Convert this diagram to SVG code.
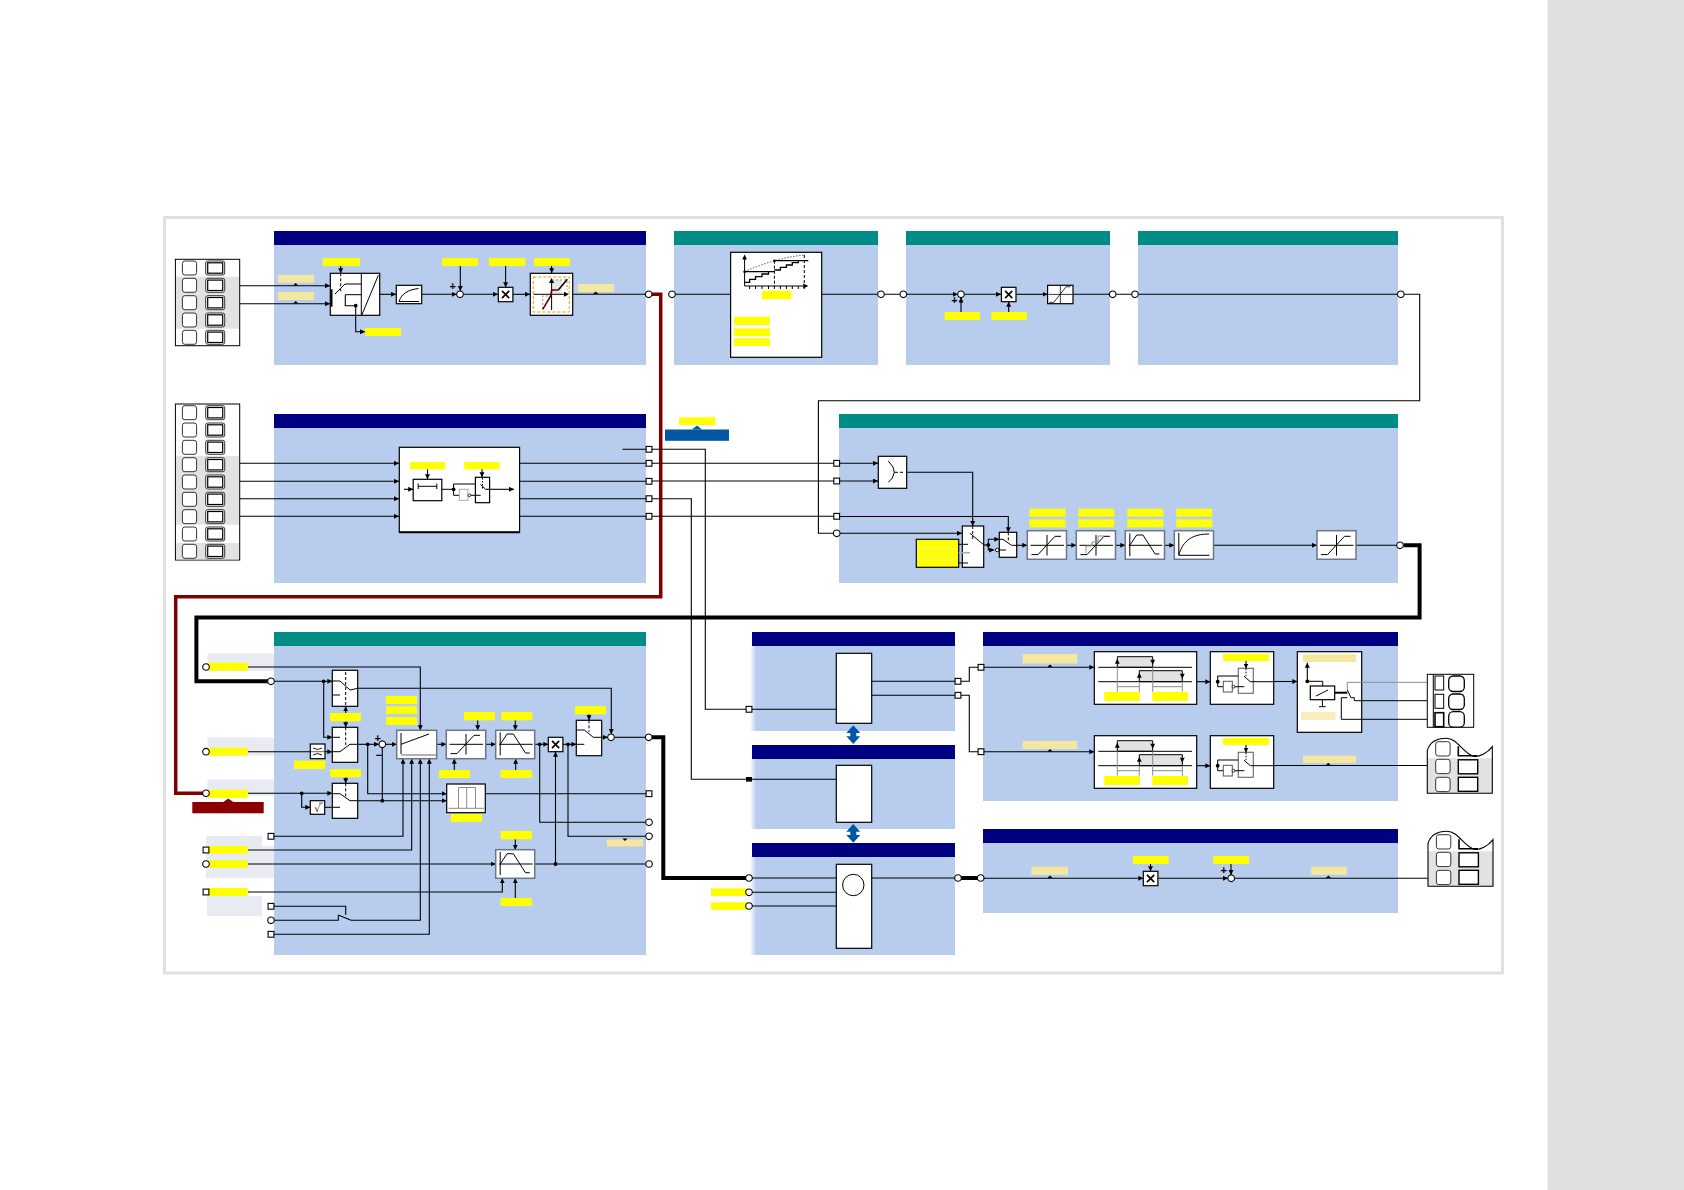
<svg xmlns="http://www.w3.org/2000/svg" xmlns:xlink="http://www.w3.org/1999/xlink" width="1684" height="1190" viewBox="0 0 1684 1190">
<style>
.b{fill:#b8cdee}.hn{fill:#000080}.ht{fill:#008b87}
.y{fill:#ffff00;stroke:none}.p{fill:#f5e6a0;stroke:none}.g{fill:#e9ebf2;stroke:none}
.w{fill:none;stroke:#000;stroke-width:1.1}
.a{marker-end:url(#ah)}
.n{fill:#fff;stroke:#000;stroke-width:1.2}
.bg{fill:#fff;stroke:#6b7787;stroke-width:1.5}
.i{fill:none;stroke:#000;stroke-width:1}
.d{fill:none;stroke:#000;stroke-width:1;stroke-dasharray:3 2}
.gl{fill:none;stroke:#8b8b8b;stroke-width:1}
.dot{fill:#000}
.pt{fill:#fff;stroke:#000;stroke-width:1.1}
.pm{font-family:"Liberation Sans",Arial,sans-serif;font-size:11px;font-weight:bold;fill:#000;text-anchor:middle}
</style>
<defs>
<marker id="ah" markerUnits="userSpaceOnUse" markerWidth="6" markerHeight="6" refX="5" refY="2.5" orient="auto"><path d="M0 0L5 2.5L0 5z"/></marker>
<linearGradient id="fade"><stop offset="0" stop-color="#fff"/><stop offset="1" stop-color="#b8cdee"/></linearGradient>
<circle id="pc" r="3.3" class="pt"/>
<rect id="ps" x="-2.9" y="-2.9" width="5.8" height="5.8" class="pt"/>
<circle id="dt" r="1.9" class="dot"/>
<path id="tri" d="M-2.6 0L0 -2.6L2.6 0z" fill="#000"/>
<g id="t"><rect width="14.2" height="14" rx="2.5" fill="#fff" stroke="#333" stroke-width="1"/><rect x="23.3" y="0" width="19" height="14" rx="2" fill="#fff" stroke="#333" stroke-width="1"/><rect x="25.3" y="1.8" width="15" height="10.4" fill="#fff" stroke="#000" stroke-width="1.2"/></g>
<g id="mul"><rect x="-7.3" y="-7.2" width="14.6" height="14.4" class="n"/><path d="M-3.6 -3.6L3.6 3.6M3.6 -3.6L-3.6 3.6" stroke="#000" stroke-width="1.6"/></g>
<g id="sat"><path class="i" d="M-16.5 0H17M0 -10.3V10.3"/><path class="i" stroke-width="1.3" d="M-15.5 9.3H-9L8 -9H14"/></g>
<g id="tr"><path class="i" d="M3.5 0H37M4.5 -12V11"/><path class="i" stroke-width="1.3" d="M4.5 0L11.4 -10.3H17.6L29.8 8.7H34"/></g>
<g id="sg"><rect width="63.4" height="52.6" class="n"/><rect x="12.7" y="2.3" width="46" height="7" class="y"/><rect x="28" y="16.6" width="15" height="25" fill="#fff" stroke="#666" stroke-width="1.1"/><path class="w a" d="M35.7 9.3V16.8"/><path d="M35.7 17V26" stroke="#000" stroke-dasharray="1.5 1.5" fill="none"/><circle cx="7.4" cy="30" r="1.9"/><path class="i" d="M7.4 30V24.3H28M7.4 30V35H13M24.6 35H34M33.7 24.5L40 30H63.4"/><rect x="13" y="29.6" width="9" height="10.7" fill="#fff" stroke="#555"/><circle cx="23.2" cy="35" r="1.4" fill="#fff" stroke="#000" stroke-width=".8"/></g>
<g id="tb"><rect width="102.4" height="52.6" class="n"/><path d="M23 15.6V5H58.4V15.6zM45 30V19H88V30z" fill="#e2e2e2" stroke="#000" stroke-width="1"/><path class="i" d="M4 15.6H97.7M4 30H97.7"/><path class="gl" d="M23 15.6V40M45 30V40M58.4 15.6V40M88 30V40M23 35H45M58.4 35H88"/><path d="M23 7L20.6 12H25.4zM58.4 13L56 8H60.8zM45 21L42.6 26H47.4zM88 27L85.6 22H90.4z" fill="#000"/><rect x="10" y="40.3" width="35.7" height="9" class="y"/><rect x="58" y="40.3" width="35.7" height="9" class="y"/></g>
<g id="tw"><rect x="0" y="-35" width="65" height="35" fill="#e2e2e2"/><path d="M0 0V-43C3 -52 11 -55 19 -55C30 -55 35 -41 46 -37C52 -36 60 -40 65 -46.6V0Z" fill="none" stroke="#000" stroke-width="1.1"/><rect x="8.4" y="-51.6" width="14.4" height="14.3" rx="2.5" fill="#fff" stroke="#333"/><rect x="8.4" y="-34" width="14.4" height="14.3" rx="2.5" fill="#fff" stroke="#333"/><rect x="8.4" y="-16" width="14.4" height="14.3" rx="2.5" fill="#fff" stroke="#333"/><path d="M31 -47V-37.5H50" fill="none" stroke="#000" stroke-width="1.6"/><rect x="31" y="-33.5" width="19.4" height="14" fill="#fff" stroke="#000" stroke-width="1.4"/><rect x="31" y="-16" width="19.4" height="14" fill="#fff" stroke="#000" stroke-width="1.4"/></g>
</defs>
<rect width="1684" height="1190" fill="#fff"/>
<rect x="1547.5" width="136.5" height="1190" fill="#e0e0e0"/>
<rect x="164.5" y="217.5" width="1338" height="755.5" fill="#fff" stroke="#e0e0e0" stroke-width="3"/>

<g id="panels">
<rect class="b" x="274" y="245" width="372" height="120"/><rect class="hn" x="274" y="231" width="372" height="14"/>
<rect class="b" x="674" y="245" width="204" height="120"/><rect class="ht" x="674" y="231" width="204" height="14"/>
<rect class="b" x="906" y="245" width="204" height="120"/><rect class="ht" x="906" y="231" width="204" height="14"/>
<rect class="b" x="1138" y="245" width="260" height="120"/><rect class="ht" x="1138" y="231" width="260" height="14"/>
<rect class="b" x="274" y="428" width="372" height="155"/><rect class="hn" x="274" y="414" width="372" height="14"/>
<rect class="b" x="839" y="428" width="559" height="155"/><rect class="ht" x="839" y="414" width="559" height="14"/>
<rect class="g" x="207.5" y="653.5" width="67" height="17.5"/><rect class="g" x="207.5" y="737.5" width="67" height="18"/><rect class="g" x="207.5" y="779.5" width="67" height="16"/>
<rect class="g" x="206" y="836" width="56" height="10"/><rect class="g" x="206" y="846" width="68" height="32"/><rect class="g" x="207" y="896" width="55" height="20"/>
<rect class="b" x="274" y="646" width="372" height="309"/><rect class="ht" x="274" y="632" width="372" height="14"/>
<rect class="b" x="752" y="646" width="203" height="85"/><rect x="750" y="646" width="6" height="85" fill="url(#fade)"/><rect class="hn" x="752" y="632" width="203" height="14"/>
<rect class="b" x="752" y="759" width="203" height="70"/><rect x="750" y="759" width="6" height="70" fill="url(#fade)"/><rect class="hn" x="752" y="745" width="203" height="14"/>
<rect class="b" x="752" y="857" width="203" height="98"/><rect x="750" y="857" width="6" height="98" fill="url(#fade)"/><rect class="hn" x="752" y="843" width="203" height="14"/>
<rect class="b" x="983" y="646" width="415" height="155"/><rect class="hn" x="983" y="632" width="415" height="14"/>
<rect class="b" x="983" y="843" width="415" height="70"/><rect class="hn" x="983" y="829" width="415" height="14"/>
</g>

<g id="connectors">
<path fill="none" stroke="#800000" stroke-width="3.5" d="M651 294.3H660.7V596.7H175.7V793.3H203"/>
<path fill="none" stroke="#000" stroke-width="4" d="M1403.5 545.3H1419.6V617.5H196.4V681.3H268"/>
<path fill="none" stroke="#000" stroke-width="4" d="M652 737.3H663.3V878H746"/>
<path fill="none" stroke="#000" stroke-width="4" d="M961 878H978"/>
<g class="w">
<path class="a" d="M240 285.7H330"/><path class="a" d="M240 303.7H330"/><path class="a" d="M340.7 266V273.3"/>
<path class="a" d="M379.7 294.3H396"/><path class="a" d="M421.7 294.3H456.7"/><path class="a" d="M460.3 266V291"/>
<path class="a" d="M463.5 294.3H498"/><path class="a" d="M505.6 266V287.3"/><path class="a" d="M513 294.3H530"/>
<path class="a" d="M551.6 266V273.3"/><path d="M572.7 294.3H645.5"/>
<path d="M675 294.3H730.6M821.7 294.3H877.7M884.3 294.3H900"/><path class="a" d="M906.5 294.3H957.7"/><path class="a" d="M961 312V297.6"/>
<path class="a" d="M964.3 294.3H1001"/><path class="a" d="M1008.7 312V301.7"/><path class="a" d="M1016.2 294.3H1047.6"/>
<path d="M1073 294.3H1109.4M1116 294.3H1131.7M1138.3 294.3H1397.5"/>
<path d="M1404 294.3H1419.7V400.7H818.4V533.3H833.4"/><path class="a" d="M840 533.3H962"/>
<path class="a" d="M240 463.3H399"/><path class="a" d="M240 481.3H399"/><path class="a" d="M240 498.7H399"/><path class="a" d="M240 516.3H399"/>
<path d="M622.5 449.3H646M519.6 463.3H646M519.6 481.3H646M519.6 498.7H646M519.6 516.3H646"/>
<path d="M652 449.3H705.3V709.3H746"/><path d="M652 498.7H691.3V779.3H746"/>
<path d="M652 463.3H833.8M652 481H833.8M652 516.3H833.8"/>
<path class="a" d="M839.6 463.3H878"/><path class="a" d="M839.6 481H878"/>
<path class="a" d="M839.6 516.5H1008.3V532.3"/><path class="a" d="M906.7 472.3H972.7V526"/>
<path d="M983.7 545H988.3"/><path class="a" d="M988.3 545V539.3H999.3"/><path class="a" d="M988.3 545V550H994.2"/>
<path class="a" d="M1016.7 545.3H1027.3"/><path class="a" d="M1066.5 545.3H1076.3"/><path class="a" d="M1115.5 545.3H1125.3"/><path class="a" d="M1164.5 545.3H1174.3"/><path class="a" d="M1213.5 545.3H1317"/><path d="M1356 545.3H1396.7"/>
<path class="a" d="M248 667H420.3V730.3"/><path class="a" d="M274.3 681.3H332.3"/><path class="a" d="M323.7 681.3V737.3H332.3"/>
<path d="M248 751.7H310.3"/><path class="a" d="M325 751.7H332.3"/><path class="a" d="M248 793.3H332.3"/><path class="a" d="M301.7 793.3V807.3H310.3"/><path d="M324.7 807.3H340"/>
<path class="a" d="M357.7 688.3H611.3V734"/><path class="a" d="M345.7 713V706.3"/><path class="a" d="M345.7 721.3V727.3"/><path class="a" d="M345.7 777.3V783.3"/>
<path class="a" d="M357.7 744.3H379"/><path class="a" d="M367.7 744.3V793.7H446.7"/><path class="a" d="M382.3 800.7V740.6"/><path class="a" d="M357.7 800.7H446.7"/><path class="a" d="M385.6 744.3H396.7"/>
<path class="a" d="M274 836.3H403V758.7"/><path class="a" d="M248 850H411.7V758.7"/><path d="M274 906.3H345.7V915M274 920.3H338.3V915M338.3 915L351 920.3"/><path class="a" d="M351 920.3H420.3V758.7"/><path class="a" d="M274 934.3H429.3V758.7"/>
<path class="a" d="M436.7 744.3H446.3"/><path class="a" d="M477.7 720.3V730.3"/><path class="a" d="M515.3 720.3V730.3"/><path class="a" d="M454.3 770V758.7"/><path class="a" d="M515.7 770V758.7"/><path class="a" d="M485.7 744.3H495.7"/><path class="a" d="M534.7 744.3H548.3"/><path class="a" d="M563 744.3H576.3"/><path class="a" d="M589 714.3V720.3"/><path class="a" d="M601.7 737.3H607.7"/><path d="M614.3 737.3H645.4"/>
<path class="a" d="M248 864H495.7"/><path class="a" d="M248 892H502.3V878.3"/><path class="a" d="M515.3 839.3V849.7"/><path class="a" d="M515.3 898V878.3"/><path d="M534.7 864H645.7M485.3 793.7H646M539.7 744.3V822.3H645.7M568 744.3V836.3H645.7"/><path class="a" d="M555.5 864V751.7"/>
<path d="M752 709.3H836.3M752 779.3H836.3M752 878H836.3M752.3 892.3H836.3M752.3 906H836.3M871.7 681.3H955M871.7 695.3H955M961 681.3H969.3V667.3H978M961 695.3H969.3V751.7H978M871.7 878H954.7"/>
<path class="a" d="M984 667.3H1094.3"/><path class="a" d="M984 751.7H1094.3"/><path class="a" d="M1196.7 681.7H1210.3"/><path class="a" d="M1196.7 765.7H1210.3"/><path class="a" d="M1273.7 681.5H1297.3"/><path d="M1273.7 765.5H1427.3"/>
<path class="a" d="M984 878.3H1143.3"/><path class="a" d="M1150.5 864V871.3"/><path class="a" d="M1158 878.3H1228"/><path class="a" d="M1231 864V875"/><path d="M1234.4 878.3H1428"/>
</g>
</g>

<g id="term1"><rect x="175.4" y="259.3" width="64.3" height="86.4" fill="#fff" stroke="#000"/><rect x="176" y="276.7" width="63" height="52" fill="#e2e2e2"/>
<use href="#t" x="182.4" y="261"/><use href="#t" x="182.4" y="278.3"/><use href="#t" x="182.4" y="295.7"/><use href="#t" x="182.4" y="313"/><use href="#t" x="182.4" y="330.3"/></g>
<g id="term2"><rect x="175.4" y="404" width="64.3" height="156" fill="#fff" stroke="#000"/><rect x="176" y="456" width="63" height="68.7" fill="#e2e2e2"/><rect x="176" y="543" width="63" height="16.5" fill="#e2e2e2"/>
<use href="#t" x="182.4" y="405.7"/><use href="#t" x="182.4" y="423"/><use href="#t" x="182.4" y="440.3"/><use href="#t" x="182.4" y="457.7"/><use href="#t" x="182.4" y="475"/><use href="#t" x="182.4" y="492.3"/><use href="#t" x="182.4" y="509.7"/><use href="#t" x="182.4" y="527"/><use href="#t" x="182.4" y="544.3"/></g>

<g id="input-select">
<rect class="p" x="278" y="275" width="36" height="7.7"/><rect class="p" x="278" y="292" width="36" height="8"/><use href="#tri" x="295.7" y="285.5"/><use href="#tri" x="295.7" y="303.5"/>
<rect class="y" x="322.7" y="258" width="37.3" height="8"/>
<rect class="n" x="330.3" y="273.3" width="49.4" height="42"/><path class="i" d="M361.3 273.3V315.3M361.7 315.3L378.3 275.3M335 294L345 284H361.3M345.3 294.7H361.3"/><path d="M331.5 289.3V306.7" stroke="#000" stroke-width="2" fill="none"/><path class="d" d="M340.7 273.3V293"/>
<path class="w a" d="M345.3 294.7V305.7H355.7V331.7H365"/><use href="#dt" x="355.7" y="305.7"/><rect class="y" x="365" y="328" width="36" height="8"/>
</g>
<g id="smooth"><rect class="n" x="396.3" y="285.3" width="25.4" height="18.4"/><path class="i" d="M399 301.5H419M399 301.5C402 293 408 290 418.5 288.5"/></g>
<g id="sum1"><rect class="y" x="442" y="258" width="36" height="8"/><use href="#pc" x="460" y="294.3"/><text class="pm" x="452.7" y="290">+</text></g>
<g id="mul1"><rect class="y" x="489" y="258" width="36.3" height="8"/><use href="#mul" x="505.6" y="294.5"/></g>
<g id="limit1"><rect class="y" x="534" y="258" width="36" height="8"/><rect class="n" x="530.3" y="273.3" width="42.4" height="42"/><rect x="551.6" y="280" width="10" height="14" fill="#e6e6e6"/><rect x="533.3" y="277" width="36" height="35" fill="none" stroke="#e0a000" stroke-width="1" stroke-dasharray="3 2"/><path class="i" d="M533.5 294.3H566M551.6 310V281"/><path d="M569 294.3L564 291.8V296.8zM551.6 278L549 283H554.2z"/><path class="gl" stroke-dasharray="2 2" d="M542.7 309V296H550M552 280H567V290"/><path fill="none" stroke="#000" stroke-width="1.6" d="M558.3 290L567.3 279.3"/><path fill="none" stroke="#600" stroke-width="1.6" d="M542.7 309.3L550.7 296L551.7 290H558.3"/></g>
<g id="out1"><rect class="p" x="578" y="284" width="36" height="8"/><use href="#tri" x="595.7" y="294"/><use href="#pc" x="648.7" y="294.3"/></g>

<g id="stairs">
<use href="#pc" x="672" y="294.3"/><rect class="n" x="730.6" y="252.3" width="91.1" height="105"/>
<path class="i" d="M744.6 286V258M744.6 286H804"/><path d="M744.6 254.5L742.2 259.5H747zM808.3 286L803.3 283.6V288.4z"/>
<path class="i" d="M749.6 286v3M755.5 286v3M762 286v3M768.5 286v3M774.4 286v3M780.4 286v3M786.4 286v3M792.3 286v3M798.3 286v3M804.3 286v3"/>
<path d="M744.6 271.7Q775 258 804.3 255" fill="none" stroke="#555" stroke-dasharray="1.5 1.5"/><path class="d" d="M774.4 260.7V286M804.3 255V286"/>
<path fill="none" stroke="#000" stroke-width="1.3" d="M744.6 282.3H749.6V279.3H755.5V276.7H762V274H768.5V271.7H744.6M768.5 271.7H774.4M774.4 270H780.4V267.3H786.4V265H792.3V262.7H798.3V260.7M774.4 260.7H808.3"/>
<circle cx="744.6" cy="271.7" r="1.3"/><circle cx="774.4" cy="260.7" r="1.3"/>
<rect class="y" x="762" y="290.7" width="29.3" height="8.6"/><rect class="y" x="734" y="316.7" width="36" height="8.3"/><rect class="y" x="734" y="328.3" width="36" height="7.7"/><rect class="y" x="734" y="338.3" width="36" height="7.7"/>
<use href="#pc" x="881" y="294.3"/></g>
<g id="sum2"><use href="#pc" x="903.3" y="294.3"/><use href="#pc" x="961" y="294.3"/><rect class="y" x="944.6" y="312" width="35.4" height="8"/><text class="pm" x="954.5" y="304">+</text></g>
<g id="mul2"><rect class="y" x="991.3" y="312" width="35.4" height="8"/><use href="#mul" x="1008.7" y="294.5"/></g>
<g id="limit2"><rect class="n" x="1047.6" y="285.3" width="25.4" height="18.4"/><use href="#sat" transform="translate(1060.3 294.4) scale(.72 .85)"/><use href="#pc" x="1112.7" y="294.3"/></g>
<g id="pass"><use href="#pc" x="1135" y="294.3"/><use href="#pc" x="1400.8" y="294.3"/></g>

<g id="digital-in"><rect x="399.3" y="447.3" width="120.3" height="85" fill="#fff" stroke="#000" stroke-width="1.2"/><path d="M399.3 532.3H519.6" stroke="#000" stroke-width="2"/>
<rect class="y" x="410" y="462" width="35" height="7.3"/><rect class="y" x="464.3" y="462" width="35.3" height="7.3"/>
<path class="w a" d="M427.5 469.3V479.3"/><path class="w a" d="M482 469.3V477.3"/><path class="w a" d="M404 489.3H413.2"/>
<rect class="n" x="413.2" y="479.3" width="28.6" height="21.4"/><path class="i" d="M418.2 486.3H436.8M418.2 483.5V489M436.8 483.5V489M441.8 489.3H453.6V484H475.4M453.6 489.3V495.3H459.3"/><use href="#dt" x="453.6" y="489.3"/>
<rect x="459.3" y="489.3" width="8.6" height="11" fill="#fff" stroke="#aaa"/><circle cx="469.4" cy="495.3" r="1.4" fill="#fff" stroke="#000" stroke-width=".8"/>
<rect class="n" x="475.4" y="477.3" width="14.2" height="25.4"/><path class="i" d="M470.8 495.3H480.7M480.4 484.3L485.7 489.3"/><path class="w a" d="M485.7 489.3H514"/><path d="M482.5 478V490" stroke="#000" stroke-dasharray="1.5 1.5"/>
</g>
<g id="ports-di"><use href="#ps" x="649" y="449.3"/><use href="#ps" x="649" y="463.3"/><use href="#ps" x="649" y="481.3"/><use href="#ps" x="649" y="498.7"/><use href="#ps" x="649" y="516.3"/></g>
<g id="blue-label"><rect class="y" x="679" y="417.3" width="36.4" height="7.7"/><rect x="665" y="429.5" width="64" height="11.3" fill="#0058a3"/><path d="M692 429.6L697 425.6L702 429.6z" fill="#0058a3"/></g>

<g id="setpoint">
<use href="#ps" x="836.7" y="463.3"/><use href="#ps" x="836.7" y="481"/><use href="#ps" x="836.7" y="516.3"/><use href="#pc" x="836.7" y="533.3"/>
<rect class="n" x="878.3" y="456.3" width="28.4" height="32"/><path class="i" d="M888.3 461L893 467L894.3 472.3L892.3 478L888.3 482.3M894.3 472.3H898M900 472.3H903"/>
<rect x="916.3" y="539.3" width="42.4" height="28" fill="#ff0" stroke="#000" stroke-width="1.2"/><path d="M917 548.7H958M917 558H958" stroke="#f3f37e" stroke-width="1.2"/>
<rect class="n" x="962.3" y="526" width="21.4" height="41.3"/><path class="i" d="M958.7 544.3H968M958.7 563H968M970 533.3L984 545"/><path stroke="#aaa" stroke-width="1.6" d="M958.7 552.7H970"/><path class="d" d="M972.7 526V540"/><use href="#dt" x="988.3" y="545"/>
<circle cx="997.3" cy="550" r="1.8" fill="#fff" stroke="#000" stroke-width=".9"/>
<rect class="n" x="999.3" y="532.3" width="17.4" height="25"/><path class="i" d="M999.3 539.3H1003L1011.5 545.3H1016.7M999.3 550H1006"/><path class="d" d="M1008.3 532.3V542"/>
</g>
<g id="ramp-blocks">
<rect class="y" x="1029.4" y="508.7" width="36" height="8"/><rect class="y" x="1029.4" y="519.3" width="36" height="8"/>
<rect class="y" x="1078.3" y="508.7" width="36" height="8"/><rect class="y" x="1078.3" y="519.3" width="36" height="8"/>
<rect class="y" x="1127.3" y="508.7" width="36" height="8"/><rect class="y" x="1127.3" y="519.3" width="36" height="8"/>
<rect class="y" x="1176.3" y="508.7" width="36" height="8"/><rect class="y" x="1176.3" y="519.3" width="36" height="8"/>
<rect class="bg" x="1027.3" y="530.7" width="39.2" height="28.6"/><use href="#sat" x="1047" y="545.3"/>
<rect class="bg" x="1076.3" y="530.7" width="39.2" height="28.6"/><use href="#sat" x="1096" y="545.3"/><path class="gl" stroke-width="1.2" d="M1086 553V546H1092V542H1098V536H1104"/>
<rect class="bg" x="1125.3" y="530.7" width="39.2" height="28.6"/><use href="#tr" x="1125.3" y="545.3"/>
<rect class="bg" x="1174.3" y="530.7" width="39.2" height="28.6"/><path class="i" d="M1178.8 533V555.3H1209.4"/><path class="i" d="M1178.8 555C1183 540 1193 534 1209 534"/>
<rect class="bg" x="1317" y="530.7" width="39" height="28.6"/><use href="#sat" x="1336.5" y="545.3"/>
<use href="#pc" x="1400" y="545.3"/>
</g>

<g id="inputs-left">
<rect class="y" x="208.3" y="662.7" width="39.4" height="8"/><use href="#pc" x="206" y="667"/>
<rect class="y" x="208.3" y="747.7" width="39.4" height="8"/><use href="#pc" x="206" y="751.7"/>
<rect class="y" x="208.3" y="789.7" width="39.4" height="8.3"/><use href="#pc" x="206" y="793.3"/>
<rect class="y" x="208.3" y="846" width="39.4" height="7.7"/><use href="#ps" x="206" y="850"/>
<rect class="y" x="208.3" y="860.3" width="39.4" height="7.7"/><use href="#pc" x="206" y="864"/>
<rect class="y" x="208.3" y="888" width="39.4" height="8"/><use href="#ps" x="206" y="892"/>
<use href="#pc" x="271" y="681.3"/><use href="#ps" x="271" y="836.3"/><use href="#ps" x="271" y="906.3"/><use href="#pc" x="271" y="920.3"/><use href="#ps" x="271" y="934.3"/>
<rect x="192.3" y="802" width="71.4" height="11.3" fill="#8b0000"/><path d="M223.3 802L228.3 798.5L233.3 802z" fill="#8b0000"/>
</g>
<g id="switches">
<rect class="n" x="332.3" y="670.3" width="25.4" height="36"/><path class="i" d="M332.3 681H340L350 690L357.7 688.3M332.3 695H340"/><path class="d" d="M345.7 672V706"/>
<rect class="y" x="330" y="713" width="31" height="8.3"/>
<rect class="n" x="332.3" y="727.3" width="25.4" height="35"/><path class="i" d="M332.3 737.3H340M332.3 751.7H340L350 744.3H357.7"/><path class="d" d="M345.7 727.3V745"/>
<rect class="n" x="310.3" y="744" width="14.7" height="14.7"/><path d="M313 748Q317.6 751 322 748M313 755Q317.6 752 322 755" fill="none" stroke="#000" stroke-width=".9"/><path d="M310.3 751.7H325" stroke="#000" stroke-width=".6"/>
<rect class="y" x="294" y="760.7" width="31.3" height="8.3"/><rect class="y" x="330" y="769.3" width="31" height="8"/>
<rect class="n" x="332.3" y="783.3" width="25.4" height="35"/><path class="i" d="M332.3 793.7H340L350 800.7H357.7M332.3 807.3H340"/><path class="d" d="M345.7 783.3V797"/>
<rect class="n" x="310.3" y="800.7" width="14.4" height="13.6"/><text x="317.5" y="812" font-family="'DejaVu Sans',sans-serif" font-size="10" text-anchor="middle" fill="#333">√</text><path d="M319 803H323" stroke="#333" stroke-width=".8"/>
<use href="#dt" x="323.7" y="681.3"/><use href="#dt" x="367.7" y="744.3"/><use href="#dt" x="301.7" y="793.3"/><use href="#dt" x="382.3" y="800.7"/>
<use href="#pc" x="382.3" y="744.3"/><text class="pm" x="377.7" y="742">+</text><text class="pm" x="379" y="759">−</text>
</g>
<g id="integrator"><rect class="y" x="386" y="696" width="31" height="8"/><rect class="y" x="386" y="706.3" width="31" height="7.7"/><rect class="y" x="386" y="717" width="31" height="8"/>
<rect class="bg" x="396.7" y="730.3" width="40" height="28.4"/><path class="i" d="M401 733V754M401 744.3L429 734"/><path d="M401 755H436" stroke="#999" stroke-width="1.6"/></g>
<g id="limit3"><rect class="y" x="464" y="712" width="31" height="8.3"/><rect class="y" x="439" y="770" width="31" height="8"/><rect class="bg" x="446.3" y="730.3" width="39.4" height="28.4" stroke="#333"/><use href="#sat" x="466" y="744.3"/></g>
<g id="ramp3"><rect class="y" x="501.3" y="712" width="31" height="8.3"/><rect class="y" x="500.7" y="770" width="31.3" height="8"/><rect class="bg" x="495.7" y="730.3" width="39" height="28.4"/><use href="#tr" x="495.7" y="744.3"/><use href="#dt" x="539.7" y="744.3"/><use href="#dt" x="568" y="744.3"/></g>
<g id="mul3"><use href="#mul" x="555.6" y="744.5"/></g>
<g id="switch4"><rect class="y" x="575" y="706" width="31" height="8.3"/><rect class="n" x="576.3" y="720.3" width="25.4" height="35.4"/><path class="i" d="M576.7 730H584.3L593.3 737.3H601.7M576.7 744.3H584.3"/><path class="d" d="M589 720.3V732"/><use href="#pc" x="611" y="737.3"/><use href="#pc" x="648.7" y="737.3"/></g>
<g id="pulse"><rect class="n" x="446.7" y="784" width="38.6" height="28.7"/><path class="gl" stroke-width="1.3" d="M448.7 808.3H484M458.5 808.3V787.5H475.5V808.3M466.7 787.5V808.3"/><rect class="y" x="451" y="814" width="31" height="8"/><use href="#ps" x="649" y="793.7"/><use href="#pc" x="649" y="822.3"/><use href="#pc" x="649" y="836.3"/><use href="#pc" x="649" y="864"/><use href="#dt" x="555.5" y="864"/>
<rect class="p" x="607" y="839.5" width="36" height="7"/><path d="M622.4 838.5L625 841L627.6 838.5z"/></g>
<g id="ramp4"><rect class="y" x="500.7" y="831" width="31.3" height="8.3"/><rect class="y" x="500.7" y="898" width="31.3" height="8"/><rect class="bg" x="495.7" y="849.7" width="39" height="28.6"/><use href="#tr" x="495.7" y="864"/></g>

<g id="block-a"><rect class="n" x="836.3" y="653.3" width="35.4" height="70"/><use href="#ps" x="749" y="709.3"/><use href="#ps" x="958" y="681.3"/><use href="#ps" x="958" y="695.3"/></g>
<g id="block-b"><rect class="n" x="836.3" y="765.3" width="35.4" height="57"/><rect x="746" y="777" width="6" height="4.6" fill="#000"/></g>
<g id="block-c"><rect class="n" x="836.3" y="864.3" width="35.4" height="84"/><circle cx="853.3" cy="885" r="10.7" fill="#fff" stroke="#000"/><rect class="y" x="711" y="888.3" width="36" height="7.7"/><rect class="y" x="711" y="902.3" width="36" height="7.7"/><use href="#pc" x="749" y="878"/><use href="#pc" x="749" y="892.3"/><use href="#pc" x="749" y="906"/><use href="#pc" x="958" y="878"/><use href="#pc" x="980.7" y="878"/></g>
<g id="bus-arrows" fill="#0058a3"><path d="M853.3 725.3L860.3 733H856.3V736.3H860.3L853.3 744L846.3 736.3H850.3V733H846.3z"/><path d="M853.3 824L860.3 831.7H856.3V835H860.3L853.3 842.7L846.3 835H850.3V831.7H846.3z"/></g>

<g id="digital-out">
<use href="#ps" x="981" y="667.3"/><use href="#ps" x="981" y="751.7"/>
<rect class="p" x="1022.7" y="654" width="54.6" height="9.5"/><rect class="p" x="1022.7" y="741" width="54.6" height="8"/><use href="#tri" x="1050" y="667"/><use href="#tri" x="1050" y="751.5"/>
<use href="#tb" x="1094.3" y="651.7"/><use href="#tb" x="1094.3" y="735.7"/>
<use href="#sg" x="1210.3" y="651.7"/><use href="#sg" x="1210.3" y="735.7"/>
</g>
<g id="relay"><rect class="n" x="1297.3" y="651.7" width="64.4" height="80.6"/><rect class="p" x="1303" y="654.3" width="53" height="7.7"/><rect class="p" x="1301" y="712" width="34.5" height="8" opacity=".7"/>
<path class="w a" d="M1307.3 681.3V662.7"/><use href="#dt" x="1307.3" y="681.3"/>
<path class="i" d="M1307.3 681.3H1322.7V686M1322.4 699.7V706.7M1319 706.7H1325.7"/><rect class="n" x="1310.3" y="686" width="24.4" height="13.7"/><path class="i" d="M1316 696L1328 690"/>
<path d="M1334.7 692.7H1347.3" stroke="#000" stroke-width="2" fill="none"/>
<path class="gl" d="M1347.3 690V682.3H1427.3"/><path class="i" d="M1347.3 690L1351 697.7H1354.3V700.7H1427.3M1341.3 697.7H1347.3M1341.3 697.7V719.3H1427.3"/>
</g>
<g id="term3"><rect x="1427.3" y="674.3" width="46.4" height="53" fill="#fff" stroke="#000"/><path d="M1433.3 674.3V727.3" stroke="#000"/>
<rect x="1435" y="676" width="8.7" height="14" fill="#fff" stroke="#000"/><rect x="1435" y="694.3" width="8.7" height="14" fill="#fff" stroke="#000"/><rect x="1435" y="712.7" width="8.7" height="14" fill="#fff" stroke="#000" stroke-width="1.6"/>
<rect x="1448.7" y="676" width="15.6" height="15.5" rx="4.5" fill="#fff" stroke="#000" stroke-width="1.3"/><rect x="1448.7" y="694" width="15.6" height="15.5" rx="4.5" fill="#fff" stroke="#000" stroke-width="1.3"/><rect x="1448.7" y="711.7" width="15.6" height="15.5" rx="4.5" fill="#fff" stroke="#000" stroke-width="1.3"/></g>
<g id="out-d2"><rect class="p" x="1303" y="755.7" width="53" height="7.3"/><use href="#tri" x="1328.3" y="765.3"/></g>
<use id="term4" href="#tw" x="1427.3" y="793.3"/>

<g id="analog-out"><rect class="p" x="1031.4" y="866.7" width="36.6" height="8"/><use href="#tri" x="1050" y="878"/><rect class="y" x="1133" y="856" width="35.6" height="8"/><use href="#mul" x="1150.6" y="878.5"/><rect class="y" x="1213.3" y="856" width="35.7" height="8"/><use href="#pc" x="1231.2" y="878.3"/><text class="pm" x="1223.7" y="874">+</text><rect class="p" x="1311.3" y="866.7" width="35.5" height="8"/><use href="#tri" x="1328.4" y="878"/></g>
<use id="term5" href="#tw" x="1428" y="886.3"/>
</svg>
